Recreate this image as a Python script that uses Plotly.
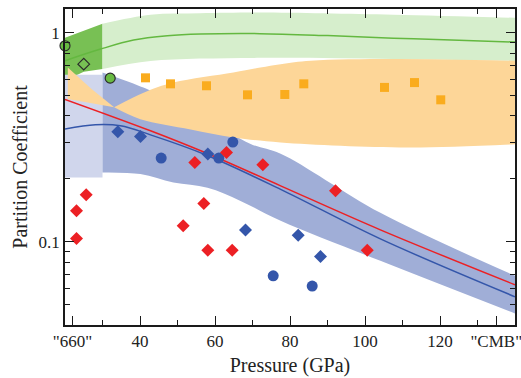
import numpy as np
import plotly.graph_objects as go

# ---------------- axis ticks ----------------
x_tick_vals = [22, 40, 60, 80, 100, 120, 135]
x_tick_text = ['"660"', '40', '60', '80', '100', '120', '"CMB"']
x_minor_vals = [30, 50, 70, 90, 110, 130]
y_tick_vals = [0.1, 1]
y_tick_text = ['0.1', '1']
y_minor_vals = [0.05, 0.06, 0.07, 0.08, 0.09, 0.2, 0.3, 0.4, 0.5, 0.6, 0.7, 0.8, 0.9]

# ---------------- green band ----------------
green_tz_x = [20, 25, 30]
green_tz_upper = [0.946, 1.026, 1.104]
green_tz_lower = [0.589, 0.651, 0.672]
green_up_x = [30, 42.8, 56, 72, 107.6, 140]
green_upper = [1.104, 1.219, 1.24, 1.25, 1.22, 1.18]
green_lo_x = [30, 42.8, 72, 107.6, 140]
green_lower = [0.672, 0.734, 0.759, 0.75, 0.734]
green_line_x = [20, 29.5, 38.3, 47.3, 56.1, 72, 90, 107.6, 125, 140]
green_line_y = [0.735, 0.836, 0.923, 0.967, 0.986, 0.991, 0.97, 0.943, 0.922, 0.903]

# ---------------- blue band ----------------
blue_tz_x = [20, 30]
blue_tz_upper = [0.63, 0.63]
blue_tz_lower = [0.203, 0.203]
blue_up_x = [30, 40.9, 45.5, 57.5, 69.5, 77.5, 104.1, 140]
blue_upper = [0.646, 0.547, 0.4995, 0.39, 0.294, 0.264, 0.1377, 0.0688]
blue_lo_x = [30, 40.1, 48.9, 58, 66.8, 77.5, 104.1, 140]
blue_lower = [0.2146, 0.211, 0.192, 0.1813, 0.157, 0.126, 0.0811, 0.0454]
blue_line_x = [20, 28.1, 34.8, 42.8, 57.5, 77.5, 104.1, 140]
blue_line_y = [0.347, 0.363, 0.359, 0.325, 0.261, 0.1783, 0.1033, 0.0546]

# ---------------- orange band ----------------
orange_tz_up_x = [20.75, 27, 33.1]
orange_tz_upper = [0.682, 0.54, 0.44]
orange_tz_lo_x = [20.75, 30.3, 33.1]
orange_tz_lower = [0.482, 0.447, 0.44]
orange_up_x = [33.1, 41.1, 48.9, 64.9, 72.1, 77.5, 85.5, 107.6, 140]
orange_upper = [0.44, 0.518, 0.578, 0.646, 0.682, 0.708, 0.735, 0.749, 0.735]
orange_lo_x = [33.1, 40.1, 53.5, 64.9, 77.5, 111.3, 140]
orange_lower = [0.44, 0.386, 0.345, 0.316, 0.299, 0.283, 0.293]

# ---------------- red line ----------------
red_line_x = [20, 42.8, 57.5, 77.5, 104.1, 140]
red_line_y = [0.4805, 0.340, 0.2667, 0.1853, 0.1141, 0.0623]

# ---------------- markers ----------------
green_circ_x = [20, 32.05]
green_circ_y = [0.867, 0.607]
green_dia_x = [25.0]
green_dia_y = [0.708]

orange_sq_x = [41.47, 48.13, 57.73, 68.67, 78.61, 83.68, 105.2, 113.2, 120.2]
orange_sq_y = [0.609, 0.570, 0.558, 0.505, 0.507, 0.570, 0.548, 0.578, 0.478]

blue_dia_x = [34.08, 40.13, 58.08, 68.13, 82.19, 88.13]
blue_dia_y = [0.336, 0.319, 0.263, 0.1138, 0.1076, 0.0850]

blue_circ_x = [45.65, 61.01, 64.75, 75.52, 85.92]
blue_circ_y = [0.2515, 0.2515, 0.300, 0.0688, 0.0614]

red_dia_x = [23.07, 23.07, 25.65, 51.52, 54.61, 57.01, 58.08, 63.07, 64.59, 72.75, 92.13, 100.6]
red_dia_y = [0.1407, 0.1037, 0.168, 0.1193, 0.2395, 0.1526, 0.0912, 0.2676, 0.0912, 0.2335, 0.1754, 0.0912]

# ---------------- colours ----------------
C_GREEN_DARK = 'rgb(120,192,84)'
C_GREEN_LIGHT = 'rgb(214,238,204)'
C_BLUE_BAND = 'rgb(160,174,215)'
C_BLUE_TZ = 'rgb(208,214,236)'
C_ORANGE_BAND = 'rgb(253,214,152)'
C_GREEN_LINE = 'rgb(100,184,64)'
C_BLUE = 'rgb(52,86,170)'
C_RED = 'rgb(236,32,36)'
C_ORANGE = 'rgb(250,172,30)'
C_GREEN_MK = 'rgb(104,186,66)'

fig = go.Figure()


def band(xl, yl, xu, yu, color, shape='spline'):
    fig.add_trace(go.Scatter(x=xl, y=yl, mode='lines', line=dict(width=0, shape=shape),
                             hoverinfo='skip', showlegend=False))
    fig.add_trace(go.Scatter(x=xu, y=yu, mode='lines', fill='tonexty', fillcolor=color,
                             line=dict(width=0, color=color, shape=shape),
                             hoverinfo='skip', showlegend=False))


# green band
band(green_tz_x, green_tz_lower, green_tz_x, green_tz_upper, C_GREEN_DARK, shape='linear')
band(green_lo_x, green_lower, green_up_x, green_upper, C_GREEN_LIGHT)
# blue band
band(blue_tz_x, blue_tz_lower, blue_tz_x, blue_tz_upper, C_BLUE_TZ, shape='linear')
band(blue_lo_x, blue_lower, blue_up_x, blue_upper, C_BLUE_BAND)
# orange band
band(orange_tz_lo_x, orange_tz_lower, orange_tz_up_x, orange_tz_upper, C_ORANGE_BAND, shape='linear')
band(orange_lo_x, orange_lower, orange_up_x, orange_upper, C_ORANGE_BAND)

# lines
fig.add_trace(go.Scatter(x=green_line_x, y=green_line_y, mode='lines',
                         line=dict(color=C_GREEN_LINE, width=1.5, shape='spline')))
fig.add_trace(go.Scatter(x=blue_line_x, y=blue_line_y, mode='lines',
                         line=dict(color=C_BLUE, width=1.5, shape='spline')))
fig.add_trace(go.Scatter(x=red_line_x, y=red_line_y, mode='lines',
                         line=dict(color=C_RED, width=1.5, shape='spline')))

# markers
fig.add_trace(go.Scatter(x=orange_sq_x, y=orange_sq_y, mode='markers', cliponaxis=False,
                         marker=dict(symbol='square', size=9, color=C_ORANGE, line=dict(width=0))))
fig.add_trace(go.Scatter(x=blue_circ_x, y=blue_circ_y, mode='markers', cliponaxis=False,
                         marker=dict(symbol='circle', size=11, color=C_BLUE, line=dict(width=0))))
fig.add_trace(go.Scatter(x=blue_dia_x, y=blue_dia_y, mode='markers', cliponaxis=False,
                         marker=dict(symbol='diamond', size=10, color=C_BLUE, line=dict(width=0))))
fig.add_trace(go.Scatter(x=red_dia_x, y=red_dia_y, mode='markers', cliponaxis=False,
                         marker=dict(symbol='diamond', size=10, color=C_RED, line=dict(width=0))))
fig.add_trace(go.Scatter(x=green_circ_x, y=green_circ_y, mode='markers', cliponaxis=False,
                         marker=dict(symbol='circle', size=10, color=C_GREEN_MK,
                                     line=dict(width=1.2, color='#2b2b2b'))))
fig.add_trace(go.Scatter(x=green_dia_x, y=green_dia_y, mode='markers', cliponaxis=False,
                         marker=dict(symbol='diamond-open', size=9, color='#2b2b2b',
                                     line=dict(width=1.2, color='#2b2b2b'))))

axis_common = dict(showline=True, linecolor='#1a1a1a', linewidth=1.5, mirror='ticks',
                   ticks='inside', ticklen=9, tickwidth=1.3, tickcolor='#1a1a1a',
                   showgrid=False, zeroline=False, automargin=False,
                   ticklabeloverflow='allow')

fig.update_xaxes(range=[20, 140], tickmode='array', tickvals=x_tick_vals, ticktext=x_tick_text,
                 tickfont=dict(size=17, color='#222'),
                 minor=dict(tickmode='array', tickvals=x_minor_vals, ticks='inside', ticklen=5,
                            tickwidth=1.3, tickcolor='#1a1a1a', showgrid=False),
                 title=dict(text='Pressure (GPa)', font=dict(size=20, color='#222'), standoff=8),
                 **axis_common)
fig.update_yaxes(type='log', range=[np.log10(0.04), np.log10(1.3)], tickmode='array',
                 tickvals=y_tick_vals, ticktext=y_tick_text,
                 tickfont=dict(size=17, color='#222'),
                 minor=dict(tickmode='array', tickvals=y_minor_vals, ticks='inside', ticklen=5,
                            tickwidth=1.3, tickcolor='#1a1a1a', showgrid=False),
                 title=dict(text='Partition Coefficient', font=dict(size=20, color='#222'), standoff=6),
                 **axis_common)

fig.update_layout(width=521, height=378, margin=dict(l=65, r=6, t=9, b=53, pad=0),
                  plot_bgcolor='white', paper_bgcolor='white', showlegend=False,
                  font=dict(family='Liberation Serif', size=17, color='#222'))

fig.write_html('out.html', config={'displayModeBar': False},
               post_script="document.body.style.margin='0';document.body.style.overflow='hidden';")
